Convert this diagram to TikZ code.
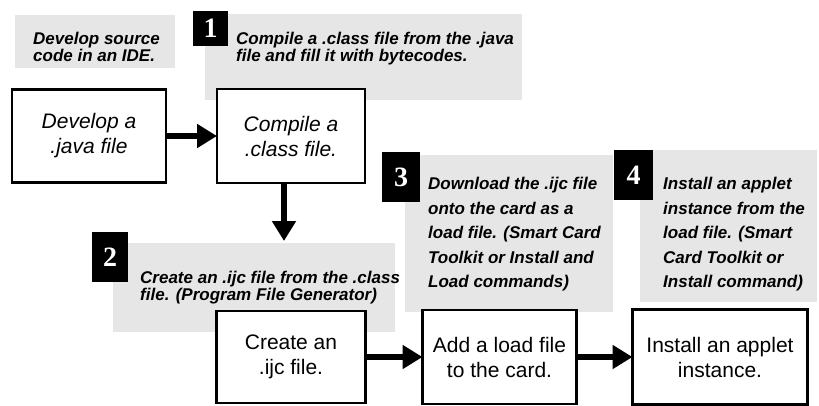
\documentclass[tikz,border=0pt]{standalone}
\usepackage{fontspec}
\setmainfont{Liberation Sans}
\newfontfamily\numfont{Liberation Serif}
\usetikzlibrary{arrows.meta,positioning}
\definecolor{ink}{HTML}{000000}
\definecolor{smudge}{HTML}{E6E6E6}
\tikzset{
  stepbox/.style={draw=ink,fill=white,line width=2.5pt,inner sep=0pt,outer sep=0pt,align=center,font=\fontsize{21}{25}\selectfont},
  numbox/.style={fill=ink,text=white,anchor=north west,inner sep=0pt,minimum width=37pt,minimum height=48pt,font=\numfont\bfseries\fontsize{28}{28}\selectfont},
  note/.style={anchor=north west,align=left,inner sep=0pt,font=\bfseries\itshape\fontsize{17}{14}\selectfont},
  widenote/.style={note,font=\bfseries\itshape\fontsize{17}{24.5}\selectfont},
  arrow/.style={-{Triangle[length=20pt,width=23pt]},line width=6pt,draw=ink}
}
\begin{document}
\begin{tikzpicture}[x=1pt,y=-1pt]
  \useasboundingbox[fill=white] (0,0) rectangle (819,405);

  % grey patches behind the notes
  \fill[smudge] (15,15) rectangle (175,68);
  \fill[smudge] (205,14) rectangle (522,100);
  \fill[smudge] (113,243) rectangle (395,332);
  \fill[smudge] (405,155) rectangle (613,312);
  \fill[smudge] (640,150) rectangle (817,302);

  % steps
  \node[stepbox,minimum width=154pt,minimum height=93pt] (dev) at (89,136) {\itshape Develop a\\\itshape .java file};
  \node[stepbox,minimum width=148pt,minimum height=94pt,right=51pt of dev] (comp) {\itshape Compile a\\\itshape .class file.};
  \node[stepbox,minimum width=149pt,minimum height=92pt,below=128pt of comp] (ijc) {Create an\\.ijc file.};
  \node[stepbox,minimum width=154pt,minimum height=94pt,right=57pt of ijc] (add) {Add a load file\\to the card.};
  \node[stepbox,minimum width=175pt,minimum height=95pt,right=56pt of add] (inst) {Install an applet\\instance.};
  \coordinate (drop) at (284,241);

  % numbered notes
  \node[numbox,minimum width=35pt,minimum height=35pt] (n1) at (193,11) {1};
  \node[numbox,minimum width=36pt,minimum height=50pt] (n2) at (92,232) {2};
  \node[numbox,minimum width=38pt,minimum height=50pt] (n3) at (382,152) {3};
  \node[numbox,minimum width=39pt,minimum height=50pt] (n4) at (614,150) {4};

  \node[note] (ide) at (33,32) {Develop source\\code in an IDE.};
  \node[note] (c1) at (236,32) {Compile a .class file from the .java\\file and fill it with bytecodes.};
  \node[note] (c2) at (140,271) {Create an .ijc file from the .class\\file. (Program File Generator)};
  \node[widenote] (c3) at (428,177) {Download the .ijc file\\onto the card as a\\load file. (Smart Card\\Toolkit or Install and\\Load commands)};
  \node[widenote] (c4) at (663,177) {Install an applet\\instance from the\\load file. (Smart\\Card Toolkit or\\Install command)};

  \draw[arrow] (dev) -- (comp);
  \draw[arrow] (drop |- comp.south) -- (drop);
  \draw[arrow] (ijc) -- (add);
  \draw[arrow] (add) -- (inst);
\end{tikzpicture}
\end{document}
